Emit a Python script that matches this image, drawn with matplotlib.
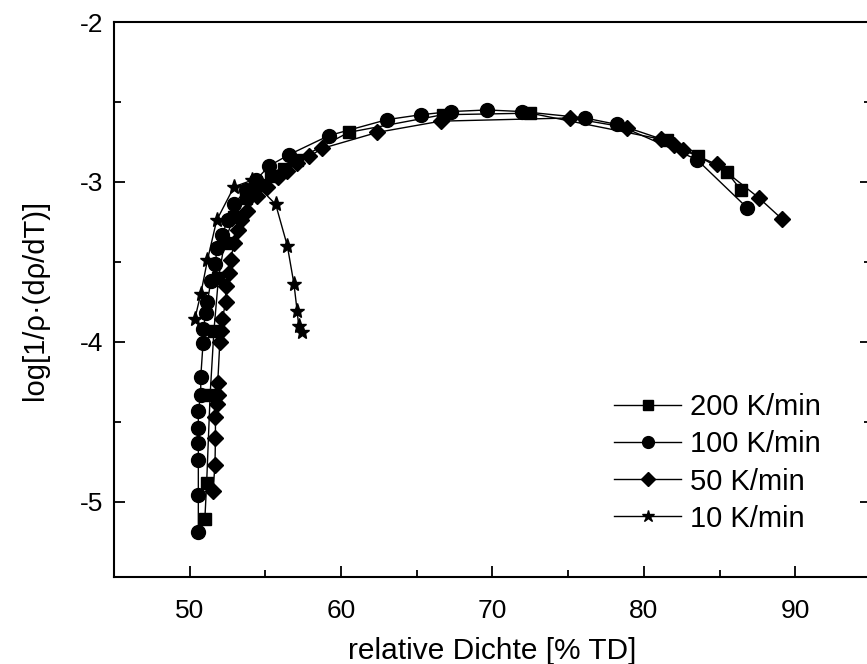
import matplotlib
matplotlib.use("Agg")
import matplotlib.pyplot as plt
from matplotlib.ticker import MultipleLocator

plt.rcParams['font.family'] = ['Liberation Sans', 'DejaVu Sans']
plt.rcParams['axes.unicode_minus'] = False

# 200 K/min (Quadrate)
x_200 = [51.0, 51.12, 51.35, 51.6, 51.9, 52.3, 52.9, 53.7, 54.5, 55.4, 56.2, 57.1,
         60.5, 66.7, 72.5, 81.5, 83.6, 85.5, 86.4]
y_200 = [-5.11, -4.88, -4.33, -3.93, -3.6, -3.38, -3.22, -3.1, -3.02, -2.96, -2.92, -2.86,
         -2.69, -2.58, -2.57, -2.74, -2.84, -2.94, -3.05]

# 100 K/min (Kreise)
x_100 = [50.57, 50.57, 50.57, 50.57, 50.57, 50.57, 50.73, 50.73, 50.88, 50.9, 51.06, 51.17,
         51.4, 51.7, 51.8, 52.15, 52.5, 52.93, 53.7, 54.36, 55.24, 56.55, 59.2, 63.05,
         65.25, 67.23, 69.65, 71.96, 76.1, 78.2, 83.5, 86.8]
y_100 = [-5.19, -4.96, -4.74, -4.63, -4.54, -4.43, -4.33, -4.22, -4.01, -3.92, -3.82, -3.75,
         -3.62, -3.51, -3.41, -3.33, -3.24, -3.14, -3.05, -2.99, -2.9, -2.83, -2.71, -2.61,
         -2.58, -2.56, -2.55, -2.56, -2.6, -2.64, -2.86, -3.16]

# 50 K/min (Rauten)
x_50 = [51.54, 51.67, 51.7, 51.7, 51.8, 51.85, 51.85, 51.99, 52.05, 52.15, 52.38, 52.38,
        52.6, 52.7, 52.93, 53.2, 53.37, 53.8, 54.47, 55.1, 55.8, 56.45, 57.1, 57.9, 58.76,
        62.4, 66.57, 75.15, 78.9, 81.1, 81.97, 82.6, 84.8, 87.6, 89.1]
y_50 = [-4.93, -4.77, -4.6, -4.47, -4.39, -4.33, -4.26, -4.0, -3.93, -3.86, -3.75, -3.65,
        -3.57, -3.49, -3.38, -3.3, -3.24, -3.18, -3.09, -3.03, -2.97, -2.93, -2.88, -2.84, -2.79,
        -2.69, -2.62, -2.6, -2.66, -2.73, -2.77, -2.8, -2.89, -3.1, -3.23]

# 10 K/min (Sterne)
x_10 = [50.33, 50.73, 51.17, 51.78, 52.93, 54.1, 55.68, 56.45, 56.89, 57.1, 57.2, 57.45]
y_10 = [-3.86, -3.7, -3.49, -3.24, -3.03, -2.99, -3.14, -3.4, -3.64, -3.81, -3.9, -3.94]

fig = plt.figure(figsize=(8.67, 6.64), dpi=100)
ax = fig.add_axes([114 / 867, 87 / 664, 757 / 867, 555 / 664])

ax.plot(x_200, y_200, '-', color='black', lw=1.0, marker='s', ms=8, label='200 K/min')
ax.plot(x_100, y_100, '-', color='black', lw=1.0, marker='o', ms=10, label='100 K/min')
ax.plot(x_50, y_50, '-', color='black', lw=1.0, marker='D', ms=8, label='50 K/min')
ax.plot(x_10, y_10, '-', color='black', lw=1.0, marker='*', ms=11, label='10 K/min')

ax.set_xlim(45, 95)
ax.set_ylim(-5.47, -2)
ax.xaxis.set_major_locator(MultipleLocator(10))
ax.xaxis.set_minor_locator(MultipleLocator(5))
ax.yaxis.set_major_locator(MultipleLocator(1))
ax.yaxis.set_minor_locator(MultipleLocator(0.5))
ax.tick_params(which='both', direction='in', right=True, width=1.3, labelsize=19)
ax.tick_params(which='major', length=8)
ax.tick_params(axis='x', which='major', pad=16)
ax.tick_params(axis='y', which='major', pad=8)
ax.tick_params(which='minor', length=5)
for s in ax.spines.values():
    s.set_linewidth(1.5)

ax.set_xlabel('relative Dichte [% TD]', fontsize=21.5, labelpad=10)
ax.set_ylabel('log[1/ρ·(dρ/dT)]', fontsize=21, labelpad=22)

ax.legend(loc='upper left', bbox_to_anchor=(0.6415, 0.357), frameon=False, fontsize=21,
          handlelength=2.3, handletextpad=0.3, labelspacing=0.31, borderpad=0,
          markerscale=0.85)

fig.savefig('out.png', dpi=100)
